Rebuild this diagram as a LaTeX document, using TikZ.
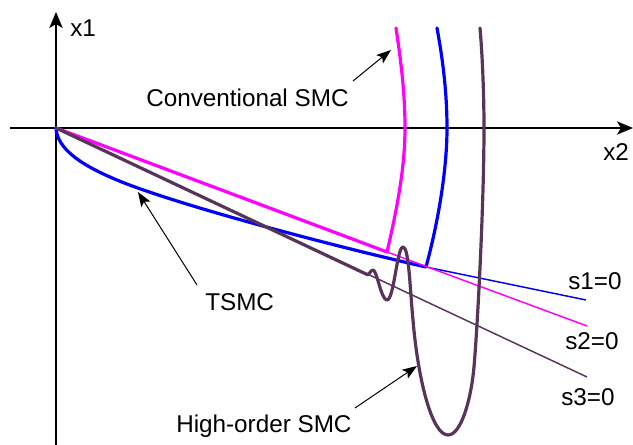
\documentclass[tikz,border=0pt]{standalone}
\usepackage{fontspec}
\setmainfont{Liberation Sans}
\usetikzlibrary{arrows.meta}
\definecolor{cmag}{RGB}{255,0,255}
\definecolor{cblue}{RGB}{0,0,255}
\definecolor{cpur}{RGB}{88,52,88}
\tikzset{
  axis/.style={line width=1.5pt,-{Stealth[length=12pt,width=10pt,inset=3pt]}},
  thickc/.style={line width=2.4pt,line join=round,line cap=round},
  thinc/.style={line width=1.1pt},
  annot/.style={line width=0.75pt,-{Stealth[length=11pt,width=8pt,inset=2.5pt]}},
  lbl/.style={inner sep=0pt,anchor=base west,font=\fontsize{18.2pt}{20pt}\selectfont}
}
\begin{document}
\begin{tikzpicture}[x=0.75pt,y=-0.75pt]
\useasboundingbox (0,0) rectangle (633,445);
% axes
\coordinate (o) at (56,128);
\coordinate (ybot) at (56,445);
\coordinate (ytop) at (56,12);
\coordinate (xleft) at (10,128);
\coordinate (xright) at (633,128);
\draw[axis] (ybot) -- (ytop);
\draw[axis] (xleft) -- (xright);
\node[lbl] (x1) at (70,37) {x1};
\node[lbl] (x2) at (603,161) {x2};
% key points
\coordinate (bc) at (426,267);
\coordinate (mc) at (387,252);
\coordinate (pc) at (366,274);
\coordinate (s1e) at (586,300);
\coordinate (s2e) at (587,326);
\coordinate (s3e) at (587,377);
% blue (TSMC)
\draw[cblue,thinc] (bc) -- (s1e);
\draw[cblue,thickc] (o) .. controls (57,148) and (80,164) .. (110,177)
  .. controls (160,200) and (320,243) .. (bc)
  .. controls (440,215) and (447,165) .. (447,128) .. controls (447,90) and (442,55) .. (437,28);
% magenta (conventional)
\draw[cmag,thinc] (mc) -- (s2e);
\draw[cmag,thickc] (o) -- (mc) .. controls (398,205) and (405,165) .. (405,128) .. controls (405,90) and (400,55) .. (396,28);
% purple (high-order)
\draw[cpur,thinc] (o) -- (s3e);
\draw[cpur,thickc] (o) -- (pc) .. controls (369,277) and (370,270) .. (373,270)
  .. controls (377,270) and (381,300) .. (387,300)
  .. controls (394,300) and (397,247) .. (403,247)
  .. controls (409,247) and (410,290) .. (413,320)
  .. controls (418,380) and (432,435) .. (448,435)
  .. controls (461,435) and (471,400) .. (474,367)
  .. controls (478,320) and (484,200) .. (484,128)
  .. controls (484,90) and (482,50) .. (480,28);
% labels
\node[lbl] (s1) at (568,290) {s1=0};
\node[lbl] (s2) at (565,350) {s2=0};
\node[lbl] (s3) at (561,406) {s3=0};
\node[lbl] (conv) at (146,107) {Conventional SMC};
\node[lbl] (tsmc) at (205,311) {TSMC};
\node[lbl] (hosmc) at (176,433) {High-order SMC};
% annotation arrows
\coordinate (convt) at (353,81);
\coordinate (convh) at (391,50);
\coordinate (tsmct) at (197,285);
\coordinate (tsmch) at (138,192);
\coordinate (hot) at (355,408);
\coordinate (hoh) at (417,366);
\draw[annot] (convt) -- (convh);
\draw[annot] (tsmct) -- (tsmch);
\draw[annot] (hot) -- (hoh);
\end{tikzpicture}
\end{document}
